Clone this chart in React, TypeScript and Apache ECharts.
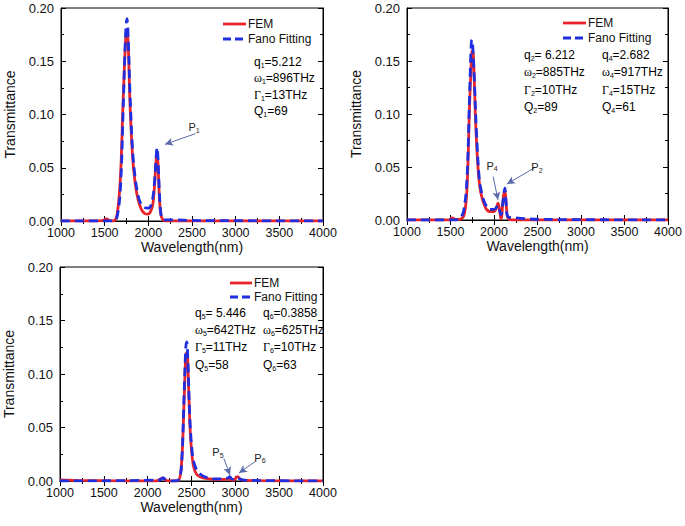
import React, { useEffect, useRef } from "react";
import * as echarts from "echarts";

// ---------- data ----------
const xTicks = [1000, 1500, 2000, 2500, 3000, 3500, 4000];
const yTicks = [0, 0.05, 0.1, 0.15, 0.2];

const p1Fem: [number, number][] = [
  [1000, 0], [1400, 0], [1480, 0.0005], [1520, 0.002], [1555, 0.0005], [1600, 0], [1640, 0.005],
  [1680, 0.04], [1710, 0.11], [1740, 0.17], [1755, 0.18], [1770, 0.165], [1790, 0.11], [1820, 0.06],
  [1850, 0.035], [1880, 0.021], [1920, 0.011], [1960, 0.007], [1990, 0.0065], [2020, 0.008],
  [2050, 0.015], [2070, 0.032], [2090, 0.058], [2100, 0.063], [2110, 0.055], [2125, 0.025],
  [2140, 0.008], [2160, 0.002], [2200, 0], [4000, 0],
];
const p1Fano: [number, number][] = [
  [1000, 0], [1600, 0], [1640, 0.003], [1680, 0.03], [1710, 0.1], [1740, 0.176], [1755, 0.19],
  [1770, 0.172], [1790, 0.12], [1820, 0.066], [1850, 0.04], [1880, 0.025], [1910, 0.017],
  [1950, 0.013], [2000, 0.012], [2040, 0.017], [2070, 0.036], [2090, 0.061], [2100, 0.069],
  [2110, 0.06], [2125, 0.03], [2140, 0.01], [2160, 0.002], [2200, 0.001], [2300, 0.001],
  [2500, 0.0005], [4000, 0],
];

const p2Fem: [number, number][] = [
  [1000, 0], [1480, 0], [1520, 0.002], [1560, 0.0005], [1620, 0.001], [1660, 0.006], [1690, 0.03],
  [1720, 0.11], [1745, 0.158], [1755, 0.16], [1770, 0.14], [1790, 0.09], [1820, 0.045],
  [1850, 0.025], [1900, 0.012], [1950, 0.008], [2000, 0.008], [2030, 0.012], [2045, 0.016],
  [2060, 0.012], [2075, 0.003], [2085, 0.001], [2100, 0.015], [2120, 0.028], [2130, 0.025],
  [2145, 0.01], [2160, 0.002], [2200, 0], [4000, 0],
];
const p2Fano: [number, number][] = [
  [1000, 0], [1550, 0], [1600, 0.001], [1650, 0.008], [1690, 0.04], [1720, 0.12], [1745, 0.17],
  [1755, 0.165], [1775, 0.13], [1800, 0.08], [1830, 0.04], [1860, 0.025], [1900, 0.015],
  [1950, 0.01], [2000, 0.01], [2030, 0.012], [2045, 0.014], [2060, 0.01], [2080, 0.005],
  [2100, 0.015], [2125, 0.03], [2140, 0.015], [2160, 0.003], [2250, 0.002], [2400, 0.001],
  [2600, 0.0005], [4000, 0],
];

const p3Fem: [number, number][] = [
  [1000, 0.001], [1200, 0.0005], [2100, 0], [2150, 0.002], [2175, 0.003], [2200, 0.001], [2250, 0],
  [2340, 0], [2380, 0.01], [2410, 0.06], [2430, 0.11], [2440, 0.12], [2455, 0.115], [2470, 0.08],
  [2490, 0.04], [2520, 0.015], [2560, 0.006], [2620, 0.003], [2700, 0.002], [2800, 0.0015],
  [2880, 0.0015], [2920, 0.002], [2950, 0.001], [2980, 0.0005], [3010, 0.003], [3030, 0.004],
  [3050, 0.002], [3100, 0.0005], [4000, 0],
];
const p3Fano: [number, number][] = [
  [1000, 0], [2140, 0.001], [2175, 0.003], [2210, 0.001], [2300, 0], [2360, 0.002], [2390, 0.02],
  [2415, 0.08], [2435, 0.125], [2445, 0.13], [2460, 0.11], [2480, 0.06], [2510, 0.025],
  [2540, 0.014], [2580, 0.008], [2650, 0.004], [2750, 0.002], [2850, 0.002], [2920, 0.003],
  [2935, 0.004], [2960, 0.002], [3000, 0.001], [3030, 0.0025], [3080, 0.001], [3200, 0.0005],
  [4000, 0],
];

const seriesNames = ["FEM", "Fano Fitting"];

// parameter labels: [symbol, subscript, rest]
const params1 = [["q", "1", "=5.212"], ["ω", "1", "=896THz"], ["Γ", "1", "=13THz"], ["Q", "1", "=69"]];
const params2a = [["q", "2", "= 6.212"], ["ω", "2", "=885THz"], ["Γ", "2", "=10THz"], ["Q", "2", "=89"]];
const params2b = [["q", "4", "=2.682"], ["ω", "4", "=917THz"], ["Γ", "4", "=15THz"], ["Q", "4", "=61"]];
const params3a = [["q", "5", "= 5.446"], ["ω", "5", "=642THz"], ["Γ", "5", "=11THz"], ["Q", "5", "=58"]];
const params3b = [["q", "6", "=0.3858"], ["ω", "6", "=625THz"], ["Γ", "6", "=10THz"], ["Q", "6", "=63"]];

// peak annotations: label sub, label coord, arrow start, arrow end (data space)
const peaks1 = [{ sub: "1", label: [2523, 0.088], from: [2540, 0.082], to: [2191, 0.072] }];
const peaks2 = [
  { sub: "4", label: [1977, 0.051], from: [1990, 0.041], to: [2046, 0.019] },
  { sub: "2", label: [2494, 0.05], from: [2460, 0.049], to: [2149, 0.034] },
];
const peaks3 = [
  { sub: "5", label: [2802, 0.027], from: [2870, 0.021], to: [2939, 0.0056] },
  { sub: "6", label: [3281, 0.0215], from: [3224, 0.018], to: [3042, 0.0075] },
];

// ---------- styling ----------
const SANS = "Liberation Sans, Arial, sans-serif";
const SERIF = "Liberation Serif, Times New Roman, serif";
const RED = "#e8242a";
const BLUE = "#1f2fe0";
const ARROW = "#5a69a8";
const DASH = [9, 5];

const rich = {
  t: { fontFamily: SANS, fontSize: 12, color: "#222", lineHeight: 14 },
  g: { fontFamily: SERIF, fontSize: 12, color: "#222", lineHeight: 14 },
  s: { fontFamily: SANS, fontSize: 7, color: "#222", lineHeight: 7, verticalAlign: "bottom" },
};

function paramText(p: string[]) {
  const k = p[0] === "ω" || p[0] === "Γ" ? "g" : "t";
  return `{${k}|${p[0]}}{s|${p[1]}}{t|${p[2]}}`;
}

function paramGraphics(list: string[][], x: number, y0: number, dy: number) {
  return list.map((p, i) => ({
    type: "text",
    x,
    y: y0 + i * dy,
    style: { text: paramText(p), rich, verticalAlign: "middle", align: "left" },
    silent: true,
  }));
}

function legendGraphics(x0: number, x1: number, y0: number, y1: number) {
  return [
    { type: "line", shape: { x1: x0, y1: y0, x2: x1, y2: y0 }, style: { stroke: RED, lineWidth: 2.8 }, silent: true },
    { type: "text", x: x1 + 2, y: y0, style: { text: seriesNames[0], fontFamily: SANS, fontSize: 12, fill: "#111", verticalAlign: "middle" }, silent: true },
    { type: "line", shape: { x1: x0, y1: y1, x2: x1, y2: y1 }, style: { stroke: BLUE, lineWidth: 2.8, lineDash: [8, 4] }, silent: true },
    { type: "text", x: x1 + 2, y: y1, style: { text: seriesNames[1], fontFamily: SANS, fontSize: 12, fill: "#111", verticalAlign: "middle" }, silent: true },
  ];
}

const grids = [
  { left: 61, top: 8, width: 262, height: 213 },
  { left: 407, top: 8, width: 261, height: 212 },
  { left: 60, top: 267, width: 263, height: 214 },
];

export default function App() {
  const ref = useRef<HTMLDivElement>(null);
  useEffect(() => {
    if (!ref.current) return;
    const chart = echarts.init(ref.current, undefined, { renderer: "svg" });

    const tickInside = { show: true, inside: true, length: 5, lineStyle: { color: "#000", width: 1 } };
    const minorInside = { show: true, splitNumber: 2, length: 3, lineStyle: { color: "#000", width: 1 } };

    const xAxes: any[] = [];
    const yAxes: any[] = [];
    grids.forEach((_, i) => {
      xAxes.push({
        type: "value", gridIndex: i, min: xTicks[0], max: xTicks[xTicks.length - 1], interval: 500,
        position: "bottom",
        name: "Wavelength(nm)", nameLocation: "middle", nameGap: 19,
        nameTextStyle: { fontFamily: SANS, fontSize: 14, color: "#111" },
        axisLine: { show: true, lineStyle: { color: "#000", width: 1 } },
        axisTick: tickInside, minorTick: minorInside, splitLine: { show: false },
        axisLabel: { fontFamily: SANS, fontSize: 12.5, color: "#111", margin: 5, formatter: (v: number) => String(v) },
      });
      yAxes.push({
        type: "value", gridIndex: i, min: yTicks[0], max: yTicks[yTicks.length - 1], interval: 0.05,
        position: "left",
        name: "Transmittance", nameLocation: "middle", nameGap: 44, nameRotate: 90,
        nameTextStyle: { fontFamily: SANS, fontSize: 14, color: "#111" },
        axisLine: { show: true, lineStyle: { color: "#000", width: 1 } },
        axisTick: tickInside, minorTick: minorInside, splitLine: { show: false },
        axisLabel: { fontFamily: SANS, fontSize: 13, color: "#111", margin: 7, formatter: (v: number) => v.toFixed(2) },
      });
    });
    grids.forEach((_, i) => {
      xAxes.push({
        type: "value", gridIndex: i, min: xTicks[0], max: xTicks[xTicks.length - 1], interval: 500,
        position: "top", axisLine: { show: true, lineStyle: { color: "#000" } },
        axisTick: tickInside, minorTick: minorInside, splitLine: { show: false }, axisLabel: { show: false },
      });
      yAxes.push({
        type: "value", gridIndex: i, min: yTicks[0], max: yTicks[yTicks.length - 1], interval: 0.05,
        position: "right", axisLine: { show: true, lineStyle: { color: "#000" } },
        axisTick: tickInside, minorTick: minorInside, splitLine: { show: false }, axisLabel: { show: false },
      });
    });

    const panels = [
      { fem: p1Fem, fano: p1Fano, peaks: peaks1 },
      { fem: p2Fem, fano: p2Fano, peaks: peaks2 },
      { fem: p3Fem, fano: p3Fano, peaks: peaks3 },
    ];

    const series: any[] = [];
    panels.forEach((p, i) => {
      series.push({
        type: "line", name: seriesNames[0], xAxisIndex: i, yAxisIndex: i, data: p.fem,
        symbol: "none", smooth: 0.35, lineStyle: { color: RED, width: 2.8 }, itemStyle: { color: RED },
        z: 2,
        markLine: {
          silent: true, symbol: ["none", "arrow"], symbolSize: [6, 8], label: { show: false },
          lineStyle: { color: ARROW, width: 1, type: "solid" },
          data: p.peaks.map((k) => [{ coord: k.from }, { coord: k.to }]),
        },
        markPoint: {
          silent: true, symbol: "circle", symbolSize: 1, itemStyle: { color: "rgba(0,0,0,0)" },
          data: p.peaks.map((k) => ({
            coord: k.label,
            label: { show: true, position: "inside", formatter: `{t|P}{s|${k.sub}}`, rich: {
              t: { fontFamily: SANS, fontSize: 11, color: "#222", lineHeight: 13 },
              s: { fontFamily: SANS, fontSize: 7, color: "#222", lineHeight: 7, verticalAlign: "bottom" },
            } },
          })),
        },
      });
      series.push({
        type: "line", name: seriesNames[1], xAxisIndex: i, yAxisIndex: i, data: p.fano,
        symbol: "none", smooth: 0.35, lineStyle: { color: BLUE, width: 2.8, type: DASH },
        itemStyle: { color: BLUE }, z: 3,
      });
    });

    const graphic = [
      ...legendGraphics(223, 246, 24, 39),
      ...legendGraphics(563, 586, 23, 38),
      ...legendGraphics(230, 252, 283, 297),
      ...paramGraphics(params1, 254, 62, 16.3),
      ...paramGraphics(params2a, 524, 55, 17.3),
      ...paramGraphics(params2b, 602, 55, 17.3),
      ...paramGraphics(params3a, 195, 313, 17.2),
      ...paramGraphics(params3b, 263, 313, 17.2),
    ];

    chart.setOption({
      animation: false,
      backgroundColor: "#fff",
      grid: grids.map((g) => ({ ...g, show: true, borderColor: "#000", borderWidth: 1, backgroundColor: "transparent" })),
      xAxis: xAxes,
      yAxis: yAxes,
      series,
      graphic,
    });
    return () => chart.dispose();
  }, []);

  return <div ref={ref} style={{ position: "fixed", left: 0, top: 0, width: 685, height: 526 }} />;
}
